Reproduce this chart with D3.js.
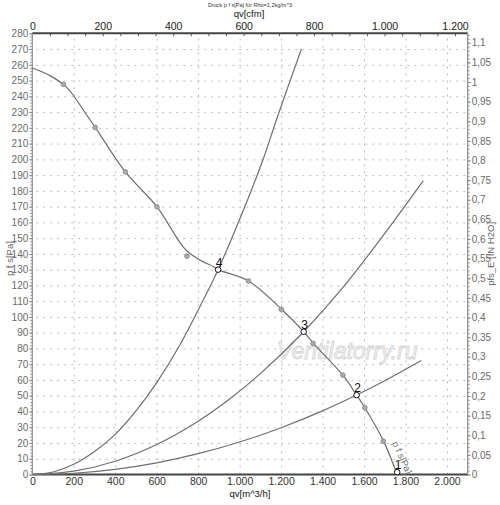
<!DOCTYPE html>
<html>
<head>
<meta charset="utf-8">
<script src="https://cdn.jsdelivr.net/npm/d3@7/dist/d3.min.js"></script>
<style>
  body { margin: 0; background: #fff; }
  text { font-family: "Liberation Sans", Arial, sans-serif; }
</style>
</head>
<body>
<div id="grafiek"></div>
<script>
// ventilatorkromme p f s [Pa] tegen qv [m^3/h]
const lijn_q = [0, 80, 166, 270, 303, 449, 601, 665, 713, 746, 810, 875, 896, 1043, 1201, 1309, 1354, 1498, 1564, 1604, 1693, 1760];
const lijn_p = [258, 253.5, 245.7, 226.6, 220.5, 192, 170, 157, 147, 141.8, 136, 131.9, 130, 122.8, 105, 90.6, 83.5, 63, 50.4, 42.4, 21.5, 0];

// meetpunten op de kromme
const meet_q = [150, 303, 449, 601, 746, 1043, 1201, 1354, 1498, 1604, 1693];
const meet_p = [247.6, 220.3, 192, 169.9, 138.6, 122.8, 104.8, 83.2, 63.1, 42.4, 21.1];

// systeemkrommen
const sys_a_q = [0, 100, 200, 300, 400, 504, 601, 713, 810, 896, 1051, 1116, 1185, 1298];
const sys_a_p = [0, 1.6, 6.5, 14.6, 25.5, 41, 58.5, 82.5, 107, 130, 178.5, 201, 228, 270];
const sys_b_q = [0, 200, 400, 600, 800, 950, 1100, 1309, 1500, 1700, 1886];
const sys_b_p = [0, 2.1, 8.4, 19, 33.8, 47.7, 64, 90.6, 119, 153, 186.5];
const sys_c_q = [0, 200, 400, 600, 800, 1000, 1200, 1400, 1564, 1700, 1876];
const sys_c_p = [0, 0.8, 3.3, 7.4, 13.2, 20.6, 29.7, 40.4, 50.4, 59.5, 72.3];

// bedrijfspunten
const punt_q = [1760, 1564, 1309, 896];
const punt_p = [1.5, 50.4, 90.6, 130];
const punt_naam = ["1", "2", "3", "4"];

// assen
const qv_ticks = [0, 200, 400, 600, 800, 1000, 1200, 1400, 1600, 1800, 2000];
const cfm_ticks = [0, 200, 400, 600, 800, 1000, 1200];
const pa_ticks = d3.range(0, 281, 10);
const inh2o_ticks = d3.range(0, 23).map(i => i * 0.05);

const breedte = 500, hoogte = 505;
const rand = { boven: 33.3, beneden: 30.5, links: 32.3, rechts: 32.3 };
const M3H_PER_CFM = 1.69901, PA_PER_INH2O = 249.089;

const de = d3.formatLocale({ decimal: ",", thousands: ".", grouping: [3], currency: ["", "€"] });

const tekening = d3.select("#grafiek")
  .append("svg")
  .attr("width", breedte)
  .attr("height", hoogte);

const x_as = d3.scaleLinear().domain([0, 2100]).range([rand.links, breedte - rand.rechts]);
const x_cfm = d3.scaleLinear().domain([0, 2100 / M3H_PER_CFM]).range(x_as.range());
const y_as = d3.scaleLinear().domain([0, 280]).range([hoogte - rand.beneden, rand.boven]);
const y_inh2o = d3.scaleLinear().domain([0, 280 / PA_PER_INH2O]).range(y_as.range());

// gestippeld raster
const raster = tekening.append("g")
  .attr("stroke", "#bdbdbd").attr("stroke-width", 1).attr("stroke-dasharray", "2,5");
raster.selectAll("line.h")
  .data(pa_ticks.slice(1, -1))
  .enter().append("line")
  .attr("x1", x_as(0) + 4).attr("x2", x_as(2100))
  .attr("y1", d => y_as(d) + 0.5).attr("y2", d => y_as(d) + 0.5);
raster.selectAll("line.v")
  .data(qv_ticks.slice(1))
  .enter().append("line")
  .attr("y1", y_as(0)).attr("y2", y_as(280))
  .attr("x1", d => x_as(d) + 0.5).attr("x2", d => x_as(d) + 0.5);

function stijl(g, kleur, lijn, maat) {
  g.selectAll("text").attr("fill", kleur).attr("font-size", maat);
  g.selectAll(".tick line").attr("stroke", lijn);
  g.select(".domain").remove();
}

// linkeras
tekening.append("g")
  .attr("transform", `translate(${rand.links},0)`)
  .call(d3.axisLeft(y_as).tickValues(d3.range(0, 281, 2)).tickSize(2).tickFormat(""))
  .call(g => stijl(g, "#666", "#999", 10));
tekening.append("g")
  .attr("transform", `translate(${rand.links},0)`)
  .call(d3.axisLeft(y_as).tickValues(pa_ticks).tickSize(3).tickPadding(1).tickFormat(d => d))
  .call(g => stijl(g, "#6a6a6a", "#888", 10));

// rechteras
tekening.append("g")
  .attr("transform", `translate(${breedte - rand.rechts},0)`)
  .call(d3.axisRight(y_inh2o).tickValues(d3.range(0, 113).map(i => i * 0.01)).tickSize(2).tickFormat(""))
  .call(g => stijl(g, "#666", "#999", 10));
tekening.append("g")
  .attr("transform", `translate(${breedte - rand.rechts},0)`)
  .call(d3.axisRight(y_inh2o).tickValues(inh2o_ticks).tickSize(3).tickPadding(1).tickFormat(de.format("~g")))
  .call(g => stijl(g, "#6a6a6a", "#888", 10));

// bovenas (cfm)
tekening.append("g")
  .attr("transform", `translate(0,${rand.boven})`)
  .call(d3.axisBottom(x_cfm).tickValues(d3.range(50, 1236, 50)).tickSize(3).tickFormat(""))
  .call(g => stijl(g, "#333", "#666", 10));
tekening.append("g")
  .attr("transform", `translate(0,${rand.boven})`)
  .call(d3.axisTop(x_cfm).tickValues(cfm_ticks).tickSize(0).tickPadding(3).tickFormat(de.format(",")))
  .call(g => stijl(g, "#222", "#666", 10.5));

// onderas (m^3/h)
tekening.append("g")
  .attr("transform", `translate(0,${hoogte - rand.beneden})`)
  .call(d3.axisBottom(x_as).tickValues(qv_ticks).tickSize(0).tickPadding(3).tickFormat(de.format(",")))
  .call(g => stijl(g, "#333", "#666", 10.5));

// kaderlijnen
tekening.append("line")
  .attr("x1", rand.links).attr("x2", breedte - rand.rechts)
  .attr("y1", rand.boven).attr("y2", rand.boven)
  .attr("stroke", "#444").attr("stroke-width", 2);
tekening.append("line")
  .attr("x1", rand.links).attr("x2", breedte - rand.rechts)
  .attr("y1", hoogte - rand.beneden).attr("y2", hoogte - rand.beneden)
  .attr("stroke", "#444").attr("stroke-width", 2);
[rand.links, breedte - rand.rechts].forEach(x =>
  tekening.append("line")
    .attr("x1", x).attr("x2", x)
    .attr("y1", rand.boven).attr("y2", hoogte - rand.beneden)
    .attr("stroke", "#8a8a8a").attr("stroke-width", 1.2));

// watermerk
tekening.append("text")
  .attr("x", x_as(1180)).attr("y", y_as(73))
  .attr("font-size", 23).attr("font-style", "italic")
  .attr("fill", "#f2f2f2").attr("stroke", "#d4d4d4").attr("stroke-width", 0.8)
  .text("Ventilatorry.ru");

// krommen
const lijn = d3.line().x(d => x_as(d[0])).y(d => y_as(d[1])).curve(d3.curveCatmullRom);
const krommen = [
  d3.zip(sys_a_q, sys_a_p),
  d3.zip(sys_b_q, sys_b_p),
  d3.zip(sys_c_q, sys_c_p),
  d3.zip(lijn_q, lijn_p)
];
tekening.selectAll("path.kromme")
  .data(krommen)
  .enter().append("path")
  .attr("class", "kromme")
  .attr("d", lijn)
  .attr("fill", "none")
  .attr("stroke", "#6f6f6f")
  .attr("stroke-width", 1.2);

tekening.selectAll("circle.meet")
  .data(d3.zip(meet_q, meet_p))
  .enter().append("circle")
  .attr("class", "meet")
  .attr("cx", d => x_as(d[0])).attr("cy", d => y_as(d[1]))
  .attr("r", 2.4)
  .attr("fill", "#aaa").attr("stroke", "#888").attr("stroke-width", 0.8);

// bedrijfspunten
const punten = d3.zip(punt_q, punt_p, punt_naam);
tekening.selectAll("circle.punt")
  .data(punten)
  .enter().append("circle")
  .attr("class", "punt")
  .attr("cx", d => x_as(d[0])).attr("cy", d => y_as(d[1]))
  .attr("r", 2.8)
  .attr("fill", "#fff").attr("stroke", "#111").attr("stroke-width", 1);
tekening.selectAll("text.punt")
  .data(punten)
  .enter().append("text")
  .attr("class", "punt")
  .attr("x", d => x_as(d[0]) + 1).attr("y", d => y_as(d[1]) - 3)
  .attr("text-anchor", "middle")
  .attr("font-size", 12).attr("fill", "#111")
  .text(d => d[2]);

// label langs de kromme
tekening.append("text")
  .attr("transform", `translate(${x_as(1735)},${y_as(20)}) rotate(66)`)
  .attr("font-size", 9.5).attr("fill", "#777")
  .text("p f s[Pa]");

// titels
tekening.append("text")
  .attr("x", 250).attr("y", 7)
  .attr("text-anchor", "middle").attr("font-size", 5.5).attr("fill", "#333")
  .text("Druck p f s[Pa] für Rho=1,2kg/m^3");
tekening.append("text")
  .attr("x", 249).attr("y", 17)
  .attr("text-anchor", "middle").attr("font-size", 9.5).attr("fill", "#111")
  .text("qv[cfm]");
tekening.append("text")
  .attr("x", 250).attr("y", 497)
  .attr("text-anchor", "middle").attr("font-size", 9.5).attr("fill", "#111")
  .text("qv[m^3/h]");
tekening.append("text")
  .attr("transform", `translate(13,${y_as(137)}) rotate(-90)`)
  .attr("text-anchor", "middle").attr("font-size", 9.5).attr("fill", "#666")
  .text("p f s[Pa]");
tekening.append("text")
  .attr("transform", `translate(494,${y_as(140)}) rotate(-90)`)
  .attr("text-anchor", "middle").attr("font-size", 9.5).attr("fill", "#666")
  .text("pfs_E [IN H2O]");
</script>
</body>
</html>
